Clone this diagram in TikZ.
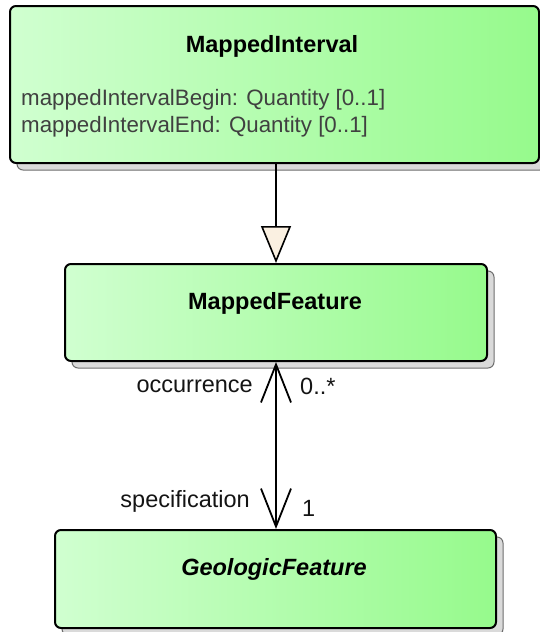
\documentclass[tikz,border=0pt]{standalone}
\usepackage{fontspec}
\setmainfont{Liberation Sans}
\usetikzlibrary{arrows.meta,shadows,calc}
\definecolor{gradL}{RGB}{208,255,208}
\definecolor{gradR}{RGB}{150,250,140}
\definecolor{shadowFill}{RGB}{218,218,218}
\definecolor{shadowLine}{RGB}{110,110,110}
\definecolor{triFill}{RGB}{250,240,225}
\definecolor{attrText}{RGB}{64,64,64}
\definecolor{lblText}{RGB}{20,20,20}
\begin{document}
\begin{tikzpicture}[x=1pt,y=-1pt,
  classbox/.style={draw=black, line width=2pt, rounded corners=6pt,
    left color=gradL, right color=gradR, inner sep=0pt,
    drop shadow={shadow xshift=7pt, shadow yshift=-7pt, fill=shadowFill,
      draw=shadowLine, line width=1pt, opacity=1}},
  classname/.style={font=\fontsize{23.5}{28}\selectfont\bfseries, inner sep=0pt},
  attr/.style={font=\fontsize{22.3}{27}\selectfont, text=attrText, inner sep=0pt, anchor=west},
  rolelbl/.style={font=\fontsize{23.5}{28}\selectfont, text=lblText, inner sep=0pt},
  conn/.style={draw=black, line width=1.8pt},
  gentip/.tip={Triangle[length=37pt,width=30pt,fill=triFill,line width=1.6pt]},
  navtip/.tip={Straight Barb[length=38pt,width=30pt,line width=1.8pt]}]
\useasboundingbox (0,0) rectangle (540,632);
\clip (0,0) rectangle (540,632);

% classes
\node[classbox, minimum width=529pt, minimum height=157pt] (mi) at (274.5,84.5) {};
\node[classbox, minimum width=422pt, minimum height=97pt] (mf) at (276,312.5) {};
\node[classbox, minimum width=441pt, minimum height=98pt] (gf) at (275.5,579) {};

% compartment separator of MappedInterval
\draw[line width=2pt] ($(mi.north west)+(0,-65)$) -- ($(mi.north east)+(0,-65)$);

% class names
\node[classname] (mit) at (272,46) {MappedInterval};
\node[classname] (mft) at (275,303) {MappedFeature};
\node[classname, font=\fontsize{23.5}{28}\selectfont\bfseries\itshape] (gft) at (274,569) {GeologicFeature};

% attributes
\node[attr] (a1) at (21,100) {mappedIntervalBegin: Quantity [0..1]};
\node[attr] (a2) at (21,127) {mappedIntervalEnd: Quantity [0..1]};

% generalization
\draw[conn, -gentip] (mi.south -| mf.north) -- (mf.north);

% association
\draw[conn, navtip-navtip] (mf.south) -- (mf.south |- gf.north);

% role names and multiplicities
\node[rolelbl, anchor=east] (occ) at (253,386) {occurrence};
\node[rolelbl, anchor=west] (occm) at (300,386) {0..*};
\node[rolelbl, anchor=east] (spec) at (250,501) {specification};
\node[rolelbl, anchor=west] (specm) at (302,508) {1};
\end{tikzpicture}
\end{document}
